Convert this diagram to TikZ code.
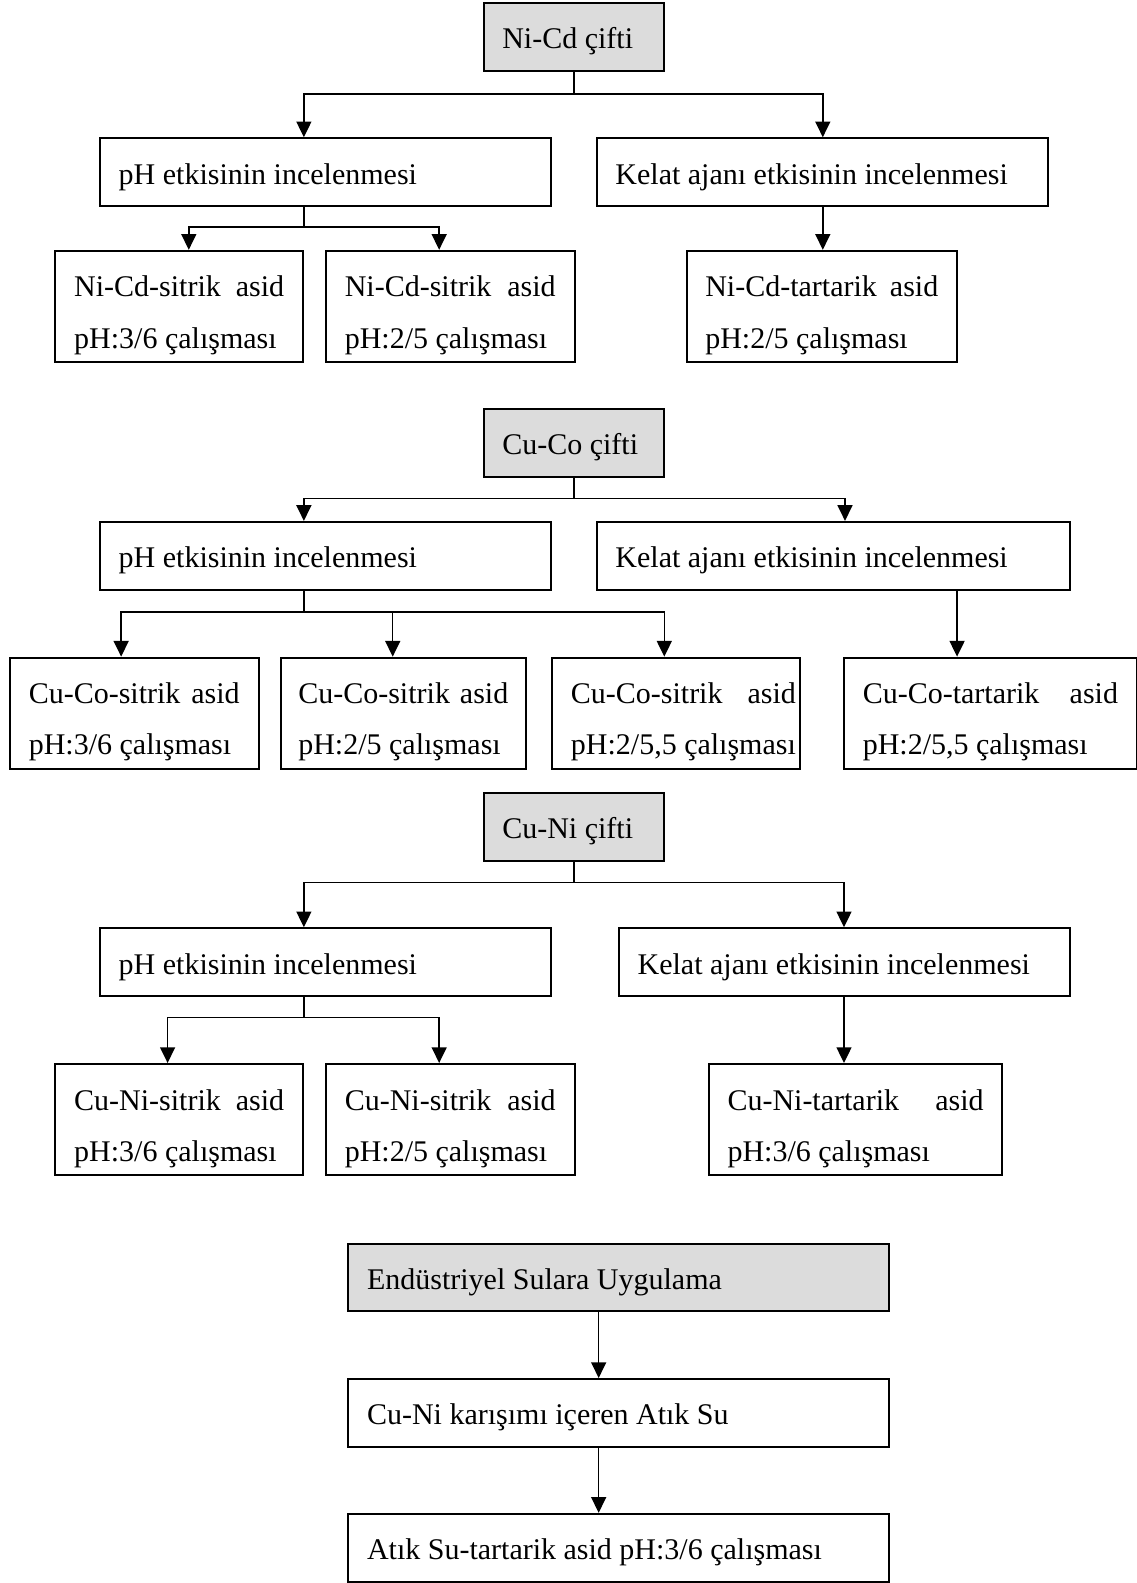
\documentclass[tikz,border=0pt]{standalone}
\usepackage{fontspec}
\setmainfont{Liberation Serif}
\usetikzlibrary{arrows.meta}
\definecolor{titlegray}{RGB}{220,220,220}
\tikzset{
  box/.style={draw, rectangle, line width=0.8pt, inner xsep=7.5pt, inner ysep=0pt,
    align=left, minimum height=27.1pt, font=\fontsize{12}{20.5}\selectfont,
    execute at begin node={\spaceskip=0pt\xspaceskip=0pt\rule{0pt}{12.2pt}}},
  title/.style={box, fill=titlegray},
  leaf/.style={box, minimum height=44.5pt, execute at begin node={\rule{0pt}{15.4pt}}},
  arr/.style={-{Triangle[width=6pt,length=6.3pt]}, line width=0.6pt}
}

\begin{document}
\begin{tikzpicture}[x=0.4039pt, y=-0.4039pt]
    \useasboundingbox (0,0) rectangle (1126,1568);

    % Ni-Cd
    \node[title, text width=57.3pt] (nicd) at (568.5,36.5) {Ni-Cd çifti};
    \node[box, text width=165.5pt] (ph1) at (322.5,170.5) {pH etkisinin incelenmesi};
    \node[box, text width=165.5pt] (kel1) at (814.5,170.5) {Kelat ajanı etkisinin incelenmesi};
    \node[leaf, text width=84pt] (nc1) at (177.5,303.5) {Ni-Cd-sitrik \hspace{0pt plus 1filll}asid\\pH:3/6 çalışması};
    \node[leaf, text width=84.4pt] (nc2) at (446,303.5) {Ni-Cd-sitrik \hspace{0pt plus 1filll}asid\\pH:2/5 çalışması};
    \node[leaf, text width=93.2pt] (nc3) at (814,303.5) {Ni-Cd-tartarik \hspace{0pt plus 1filll}asid\\pH:2/5 çalışması};

    \coordinate (s1) at (301,93);
    \coordinate (s1r) at (815,93);
    \coordinate (t1) at (187,225);
    \coordinate (t1r) at (435,225);
    \draw[arr] (nicd.south) |- (s1) -- (s1 |- ph1.north);
    \draw[arr] (nicd.south) |- (s1r) -- (s1r |- kel1.north);
    \draw[arr] (ph1.south -| s1) |- (t1) -- (t1 |- nc1.north);
    \draw[arr] (ph1.south -| s1) |- (t1r) -- (t1r |- nc2.north);
    \draw[arr] (kel1.south -| s1r) -- (s1r |- nc3.north);

    % Cu-Co
    \node[title, text width=57.3pt] (cuco) at (568.5,438.5) {Cu-Co çifti};
    \node[box, text width=165.5pt] (ph2) at (322.5,550.5) {pH etkisinin incelenmesi};
    \node[box, text width=174.4pt] (kel2) at (825.5,550.5) {Kelat ajanı etkisinin incelenmesi};
    \node[leaf, text width=84.4pt] (cc1) at (133,706.5) {Cu-Co-sitrik \hspace{0pt plus 1filll}asid\\pH:3/6 çalışması};
    \node[leaf, text width=84pt, inner xsep=7pt] (cc2) at (399.5,706.5) {Cu-Co-sitrik \hspace{0pt plus 1filll}asid\\pH:2/5 çalışması};
    \node[leaf, text width=84pt] (cc3) at (669.5,706.5) {\makebox[90pt][s]{Cu-Co-sitrik asid}\\\mbox{pH:2/5,5 çalışması}};
    \node[leaf, text width=102.1pt] (cc4) at (981,706.5) {Cu-Co-tartarik \hspace{0pt plus 1filll}asid\\pH:2/5,5 çalışması};

    \coordinate (s2) at (301,494);
    \coordinate (s2r) at (837,494);
    \coordinate (t2a) at (120,606);
    \coordinate (t2b) at (389,606);
    \coordinate (t2c) at (658,606);
    \coordinate (k2) at (948,584);
    \draw[arr] (cuco.south) |- (s2) -- (s2 |- ph2.north);
    \draw[arr] (cuco.south) |- (s2r) -- (s2r |- kel2.north);
    \draw[arr] (ph2.south -| s2) |- (t2a) -- (t2a |- cc1.north);
    \draw[arr] (ph2.south -| s2) |- (t2b) -- (t2b |- cc2.north);
    \draw[arr] (ph2.south -| s2) |- (t2c) -- (t2c |- cc3.north);
    \draw[arr] (kel2.south -| k2) -- (k2 |- cc4.north);

    % Cu-Ni
    \node[title, text width=57.3pt] (cuni) at (568.5,819) {Cu-Ni çifti};
    \node[box, text width=165.5pt] (ph3) at (322.5,953) {pH etkisinin incelenmesi};
    \node[box, text width=165.5pt] (kel3) at (836.5,953) {Kelat ajanı etkisinin incelenmesi};
    \node[leaf, text width=84pt] (cn1) at (177.5,1109) {Cu-Ni-sitrik \hspace{0pt plus 1filll}asid\\pH:3/6 çalışması};
    \node[leaf, text width=84.4pt] (cn2) at (446,1109) {Cu-Ni-sitrik \hspace{0pt plus 1filll}asid\\pH:2/5 çalışması};
    \node[leaf, text width=102.5pt] (cn3) at (847.5,1109) {Cu-Ni-tartarik \hspace{0pt plus 1filll}asid\\pH:3/6 çalışması};

    \coordinate (s3) at (301,874);
    \coordinate (s3r) at (836,874);
    \coordinate (t3) at (166,1008);
    \coordinate (t3r) at (435,1008);
    \draw[arr] (cuni.south) |- (s3) -- (s3 |- ph3.north);
    \draw[arr] (cuni.south) |- (s3r) -- (s3r |- kel3.north);
    \draw[arr] (ph3.south -| s3) |- (t3) -- (t3 |- cn1.north);
    \draw[arr] (ph3.south -| s3) |- (t3r) -- (t3r |- cn2.north);
    \draw[arr] (kel3.south -| s3r) -- (s3r |- cn3.north);

    % atik su
    \node[title, text width=201.5pt] (endu) at (613,1265.5) {Endüstriyel Sulara Uygulama};
    \node[box, text width=201.5pt] (karisim) at (613,1399.5) {Cu-Ni karışımı içeren Atık Su};
    \node[box, text width=201.5pt] (atik) at (613,1533) {Atık Su-tartarik asid pH:3/6 çalışması};

    \coordinate (v4) at (593,1299);
    \draw[arr] (endu.south -| v4) -- (v4 |- karisim.north);
    \draw[arr] (karisim.south -| v4) -- (v4 |- atik.north);
\end{tikzpicture}
\end{document}
